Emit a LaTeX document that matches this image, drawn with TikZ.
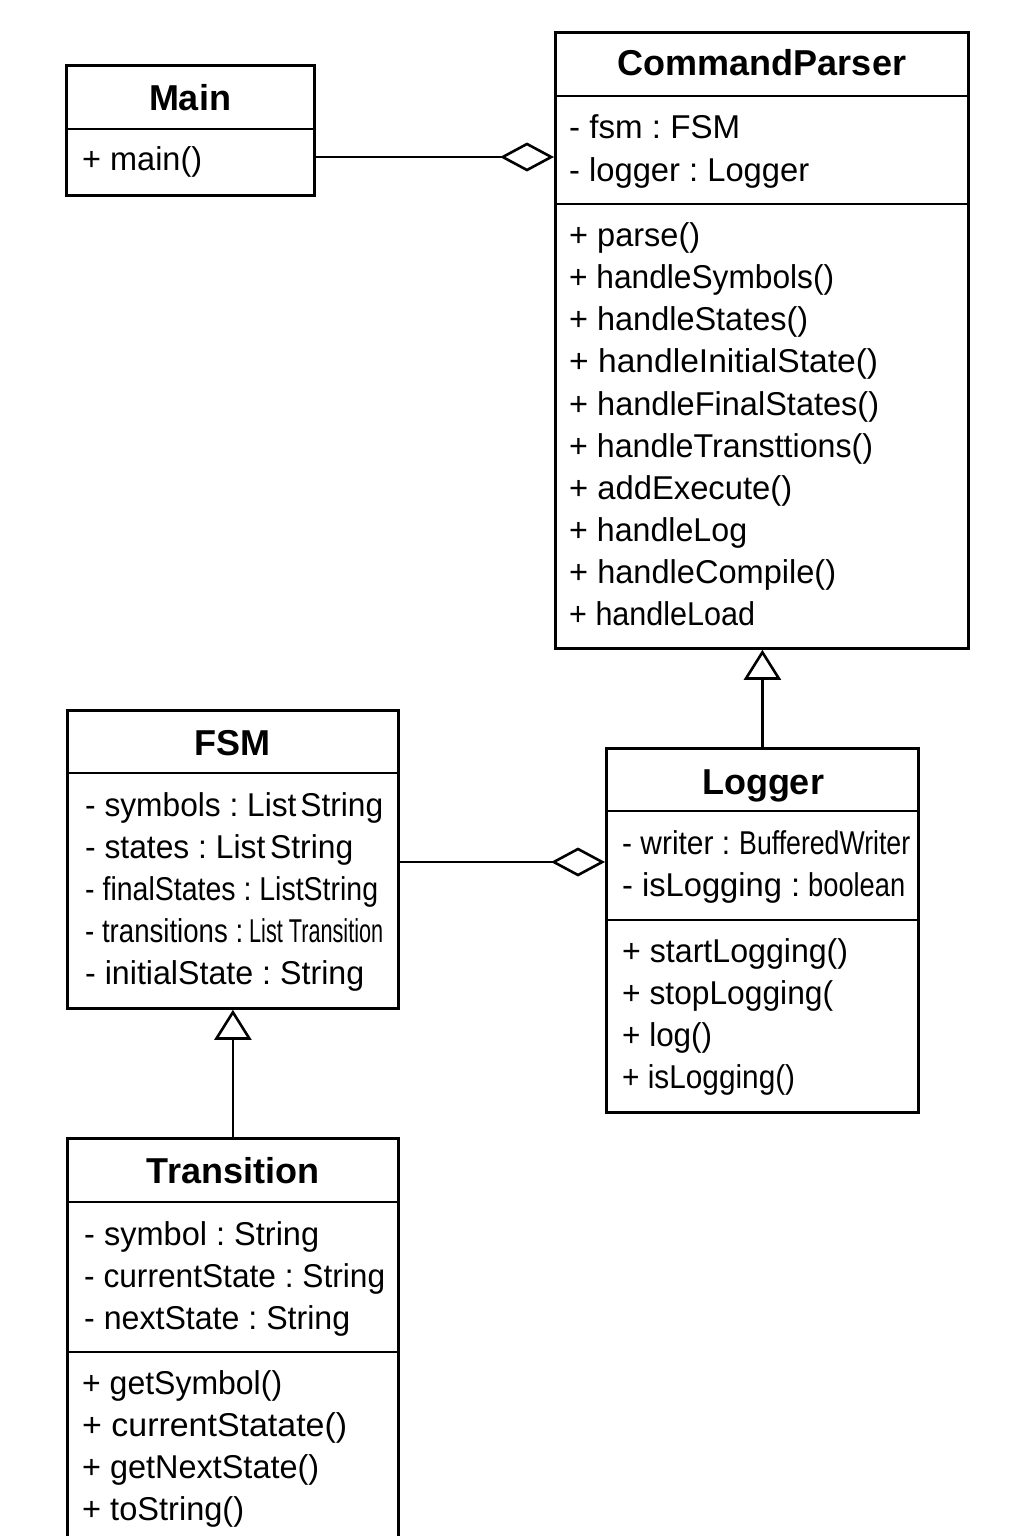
\documentclass[tikz,border=0pt]{standalone}
\usepackage{fontspec}
\setmainfont{Liberation Sans}
\usetikzlibrary{arrows.meta}
\frenchspacing
\newcommand\fitw[2]{\resizebox{#1pt}{\height}{#2}}
\begin{document}
\begin{tikzpicture}[x=1pt,y=-1pt,
  box/.style={draw,line width=2.8pt,inner sep=0pt,anchor=north west},
  sep/.style={line width=2.8pt},
  ttl/.style={font=\fontsize{36}{40}\selectfont\bfseries,anchor=base,inner sep=0pt},
  txt/.style={font=\fontsize{33}{40}\selectfont\frenchspacing,anchor=base west,inner sep=0pt},
  conn/.style={line width=2.6pt},
  agg/.style={conn,-{Diamond[open,fill=white,length=54pt,width=29pt,line width=2.6pt]}},
  inh/.style={conn,-{Triangle[open,fill=white,length=30pt,width=37pt,line width=2.6pt]}}]
\useasboundingbox (0,0) rectangle (1024,1536);
\fill[white] (0,0) rectangle (1024,1536);
\clip (0,0) rectangle (1024,1536);

% ---------- Main ----------
\node[box,minimum width=248pt,minimum height=130pt] (main) at (65,64) {};
\draw[sep] (main.west |- 0,129) -- (main.east |- 0,129);
\node[ttl] (mainT) at (190,111) {Main};
\node[txt] (main1) at (82,170) {\fitw{120}{+ main()}};

% ---------- CommandParser ----------
\node[box,minimum width=413pt,minimum height=616pt] (cp) at (554,31) {};
\draw[sep] (cp.west |- 0,96) -- (cp.east |- 0,96);
\draw[sep] (cp.west |- 0,204) -- (cp.east |- 0,204);
\node[ttl] (cpT) at (762,76) {CommandParser};
\node[txt] (cpa1) at (569,139) {\fitw{171}{- fsm : FSM}};
\node[txt] (cpa2) at (569,181) {\fitw{240}{- logger : Logger}};
\node[txt] (cpm1) at (569,246) {\fitw{131}{+ parse()}};
\node[txt] (cpm2) at (569,288) {\fitw{265}{+ handleSymbols()}};
\node[txt] (cpm3) at (569,330) {\fitw{239}{+ handleStates()}};
\node[txt] (cpm4) at (569,372) {\fitw{309}{+ handleInitialState()}};
\node[txt] (cpm5) at (569,415) {\fitw{310}{+ handleFinalStates()}};
\node[txt] (cpm6) at (569,457) {\fitw{304}{+ handleTransttions()}};
\node[txt] (cpm7) at (569,499) {\fitw{223}{+ addExecute()}};
\node[txt] (cpm8) at (569,541) {\fitw{178}{+ handleLog}};
\node[txt] (cpm9) at (569,583) {\fitw{267}{+ handleCompile()}};
\node[txt] (cpm10) at (569,625) {\fitw{186}{+ handleLoad}};

% ---------- FSM ----------
\node[box,minimum width=331pt,minimum height=298pt] (fsm) at (66,709) {};
\draw[sep] (fsm.west |- 0,773) -- (fsm.east |- 0,773);
\node[ttl] (fsmT) at (232,755) {FSM};
\node[txt] (fsm1) at (85,816) {\fitw{298}{- symbols : List\kern4pt String}};
\node[txt] (fsm2) at (85,858) {\fitw{268}{- states : List\kern5pt String}};
\node[txt] (fsm3) at (85,900) {\fitw{293}{- finalStates : ListString}};
\node[txt] (fsm4) at (85,942) {\fitw{158}{- transitions :}\hspace{6pt}\fitw{134}{List Transition}};
\node[txt] (fsm5) at (85,984) {\fitw{279}{- initialState : String}};

% ---------- Logger ----------
\node[box,minimum width=312pt,minimum height=364pt] (logger) at (605,747) {};
\draw[sep] (logger.west |- 0,811) -- (logger.east |- 0,811);
\draw[sep] (logger.west |- 0,920) -- (logger.east |- 0,920);
\node[ttl] (logT) at (763,794) {Logger};
\node[txt] (loga1) at (622,854) {\fitw{108}{- writer :}\hspace{9pt}\fitw{171}{BufferedWriter}};
\node[txt] (loga2) at (622,896) {\fitw{178}{- isLogging :}\hspace{8pt}\fitw{97}{boolean}};
\node[txt] (logm1) at (622,962) {\fitw{226}{+ startLogging()}};
\node[txt] (logm2) at (622,1004) {\fitw{211}{+ stopLogging(}};
\node[txt] (logm3) at (622,1046) {\fitw{90}{+ log()}};
\node[txt] (logm4) at (622,1088) {\fitw{173}{+ isLogging()}};

% ---------- Transition ----------
\node[box,minimum width=331pt,minimum height=430pt] (trans) at (66,1137) {};
\draw[sep] (trans.west |- 0,1202) -- (trans.east |- 0,1202);
\draw[sep] (trans.west |- 0,1352) -- (trans.east |- 0,1352);
\node[ttl] (trT) at (233,1183) {Transition};
\node[txt] (tra1) at (84,1245) {\fitw{235}{- symbol : String}};
\node[txt] (tra2) at (84,1287) {\fitw{301}{- currentState : String}};
\node[txt] (tra3) at (84,1329) {\fitw{266}{- nextState : String}};
\node[txt] (trm1) at (82,1394) {\fitw{200}{+ getSymbol()}};
\node[txt] (trm2) at (82,1436) {\fitw{265}{+ currentStatate()}};
\node[txt] (trm3) at (82,1478) {\fitw{237}{+ getNextState()}};
\node[txt] (trm4) at (82,1520) {\fitw{162}{+ toString()}};

% ---------- connectors ----------
\draw[agg] (main.east |- 0,157) -- (cp.west |- 0,157);
\draw[inh] (logger.north) -- (logger.north |- cp.south);
\draw[agg] (fsm.east |- 0,862) -- (logger.west |- 0,862);
\draw[inh] (trans.north) -- (fsm.south);
\end{tikzpicture}
\end{document}
